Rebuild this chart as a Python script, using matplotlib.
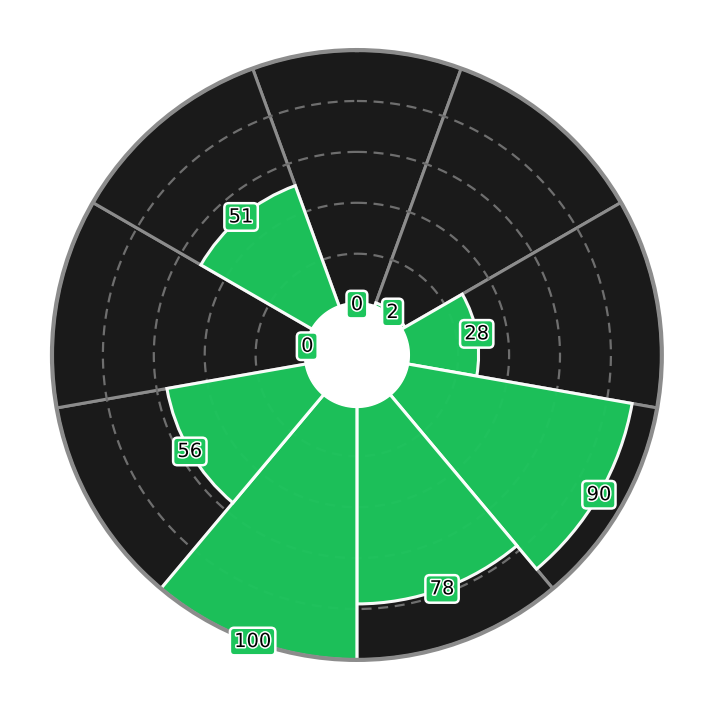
import numpy as np
import matplotlib
matplotlib.use("Agg")
import matplotlib.pyplot as plt
import matplotlib.patheffects as pe

categories = ["A", "B", "C", "D", "E", "F", "G", "H", "I"]
values = [0, 2, 28, 90, 78, 100, 56, 0, 51]
grid_levels = [20, 40, 60, 80]

GREEN = "#1dc55c"
DARK = "#1a1a1a"
GRAY = "#8c8c8c"

fig = plt.figure(figsize=(7.2, 7.27), dpi=100)
ax = fig.add_axes([0.0722, 0.0922, 0.847, 0.839], projection="polar")
ax.set_theta_zero_location("N")
ax.set_theta_direction(-1)
ax.set_ylim(0, 100)
ax.set_rorigin(-19.8)

n = len(categories)
width = 2 * np.pi / n
theta = np.arange(n) * width

ax.bar(theta, [100] * n, width=width, bottom=0, color=DARK, edgecolor=GRAY,
       linewidth=2.2, zorder=1)

tt = np.linspace(0, 2 * np.pi, 400)
for g in grid_levels:
    ax.plot(tt, [g] * len(tt), color="#6e6e6e", lw=1.6, ls=(0, (4.5, 3)), zorder=2)

ax.bar(theta, values, width=width, bottom=0, color=GREEN, edgecolor="white",
       linewidth=2.2, alpha=0.97, zorder=3)

# clean white centre hole
ax.fill(tt, [0.8] * len(tt), facecolor="white", edgecolor="white", lw=1.0,
        zorder=4, clip_on=False)

for t, v in zip(theta, values):
    ax.text(t, v, str(v), ha="center", va="center", fontsize=14, color="black",
            zorder=6,
            path_effects=[pe.withStroke(linewidth=2.2, foreground="white")],
            bbox=dict(boxstyle="round,pad=0.22", fc=GREEN, ec="white", lw=1.8))

ax.grid(False)
ax.set_xticks([])
ax.set_yticks([])
ax.spines["polar"].set_color(GRAY)
ax.spines["polar"].set_linewidth(3)
ax.spines["polar"].set_zorder(5)
ax.spines["inner"].set_visible(False)

fig.savefig("out.png", dpi=100, facecolor="white")
